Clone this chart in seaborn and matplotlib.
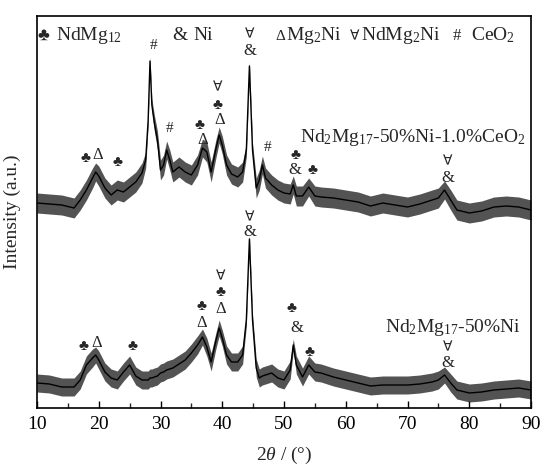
import matplotlib
matplotlib.use("Agg")
import matplotlib.pyplot as plt
import seaborn as sns
import pandas as pd
import numpy as np

# ---------------- data (arbitrary intensity units) ----------------
two_theta = [10, 12, 14, 16, 17, 18, 19, 19.5, 20, 21, 22, 23, 24, 25, 26, 27, 27.6, 28, 28.3,
             28.6, 29, 29.5, 30, 30.5, 31, 31.5, 32, 33, 34, 35, 36, 36.8, 37.5, 38.2, 39, 39.5,
             40, 40.7, 41.5, 42.5, 43.3, 43.9, 44.4, 44.9, 45.5, 46, 46.5, 47, 48, 49, 50, 51,
             51.5, 52, 53, 54, 55, 56, 58, 60, 62, 64, 66, 68, 70, 72, 74, 75, 76, 77, 78, 80,
             82, 84, 86, 88, 90]

# Nd2Mg17-50%Ni-1.0%CeO2 (upper trace): mean level and half-width of the noise band
ceo2_mid = [205, 204, 203, 200, 208, 218, 230, 236, 232, 220, 213, 218, 216, 221, 226, 235, 248, 288, 347,
            303, 285, 268, 238, 243, 258, 248, 236, 241, 236, 233, 243, 260, 256, 236, 260, 273,
            263, 243, 234, 231, 236, 258, 342, 258, 220, 228, 243, 230, 223, 218, 215, 214,
            223, 212, 212, 221, 212, 211, 210, 208, 206, 202, 205, 203, 201, 204, 208, 210, 218, 208, 198, 195,
            197, 201, 202, 201, 198]
ceo2_noise = [10, 10, 10, 10, 10, 10, 10, 9, 10, 10, 10, 10, 10, 10, 10, 10, 8, 6, 4,
              6, 8, 9, 10, 10, 9, 10, 10, 10, 10, 10, 10, 9, 10, 10, 9, 8,
              9, 10, 10, 10, 10, 7, 4, 7, 10, 10, 9, 10, 10, 10, 10, 10,
              9, 10, 10, 9, 10, 10, 10, 10, 10, 10, 10, 10, 10, 10, 10, 10, 9, 10, 10, 10,
              10, 10, 10, 10, 10]

# Nd2Mg17-50%Ni (lower trace)
ni_mid = [25, 24, 21, 21, 28, 43, 50, 53, 48, 36, 30, 28, 36, 43, 32, 28, 28, 28, 30,
          30, 31, 32, 35, 36, 38, 39, 40, 44, 48, 55, 63, 71, 61, 46, 68, 80,
          70, 53, 46, 46, 53, 88, 169, 88, 40, 30, 32, 33, 35, 30, 28, 38,
          63, 43, 31, 43, 36, 35, 31, 28, 25, 22, 23, 23, 23, 24, 26, 28, 33, 25, 18, 15,
          16, 18, 19, 20, 18]
ni_noise = [9, 9, 9, 9, 9, 9, 9, 8, 9, 9, 9, 9, 9, 9, 9, 9, 9, 9, 9,
            9, 9, 9, 9, 9, 9, 9, 9, 9, 9, 9, 9, 8, 9, 9, 8, 8,
            8, 9, 9, 9, 9, 6, 4, 6, 9, 9, 9, 9, 9, 9, 9, 9,
            6, 9, 9, 9, 9, 9, 9, 9, 9, 9, 9, 9, 9, 9, 9, 9, 8, 9, 9, 9,
            9, 9, 9, 9, 9]

sample_names = ["Nd$_2$Mg$_{17}$-50%Ni-1.0%CeO$_2$", "Nd$_2$Mg$_{17}$-50%Ni"]
# phase legend: (symbol, phase name)
phase_symbols = ["\u2663", "&", "\u0394", "\u2200", "#"]
phase_names = ["NdMg$_{12}$", "Ni", "Mg$_2$Ni", "NdMg$_2$Ni", "CeO$_2$"]

# peak marks: symbol, 2theta, intensity
ceo2_marks = [("\u2663", 17.9, 250), ("\u0394", 19.9, 253), ("\u2663", 23.0, 246),
              ("#", 28.8, 363), ("#", 31.4, 280), ("\u2663", 36.3, 283), ("\u0394", 36.9, 268),
              ("\u2200", 39.3, 320), ("\u2663", 39.3, 303), ("\u0394", 39.6, 288),
              ("\u2200", 44.5, 373), ("&", 44.5, 357), ("#", 47.3, 261),
              ("\u2663", 51.8, 253), ("&", 51.8, 238), ("\u2663", 54.6, 238),
              ("\u2200", 76.5, 246), ("&", 76.5, 230)]
ni_marks = [("\u2663", 17.6, 61), ("\u0394", 19.7, 65), ("\u2663", 25.4, 61),
            ("\u2663", 36.7, 102), ("\u0394", 36.7, 85),
            ("\u2200", 39.7, 131), ("\u2663", 39.7, 115), ("\u0394", 39.7, 99),
            ("\u2200", 44.5, 190), ("&", 44.5, 176),
            ("\u2663", 51.3, 100), ("&", 52.0, 80), ("\u2663", 54.2, 55),
            ("\u2200", 76.5, 60), ("&", 76.5, 45)]

xticks = [10, 20, 30, 40, 50, 60, 70, 80, 90]

# ---------------- style ----------------
sns.set_theme(style="ticks")
plt.rcParams["font.family"] = ["Liberation Serif", "DejaVu Sans"]
plt.rcParams["mathtext.fontset"] = "custom"
plt.rcParams["mathtext.rm"] = "Liberation Serif"
plt.rcParams["mathtext.it"] = "Liberation Serif:italic"
plt.rcParams["mathtext.default"] = "regular"

df = pd.DataFrame({"two_theta": two_theta, "ceo2": ceo2_mid, "ni": ni_mid,
                   "ceo2_n": ceo2_noise, "ni_n": ni_noise})

fig = plt.figure(figsize=(5.4, 4.66), dpi=100)
ax = fig.add_axes([37 / 540, 1 - 408 / 466, (531 - 37) / 540, (408 - 16) / 466])

for col, ncol in (("ceo2", "ceo2_n"), ("ni", "ni_n")):
    ax.fill_between(df["two_theta"], df[col] - df[ncol], df[col] + df[ncol],
                    color="#1a1a1a", alpha=0.75, linewidth=0)
    sns.lineplot(data=df, x="two_theta", y=col, ax=ax, color="black", linewidth=1.0)

ax.set_xlim(10, 90)
ax.set_ylim(0, 392)
ax.set_xticks(xticks)
ax.set_xticks([15, 25, 35, 45, 55, 65, 75, 85], minor=True)
ax.set_yticks([])
ax.tick_params(axis="x", which="major", direction="in", length=5, width=1.0,
               labelsize=14, pad=6, colors="black")
ax.tick_params(axis="x", which="minor", direction="in", length=3.5, width=1.0)
for s in ax.spines.values():
    s.set_linewidth(1.2)
    s.set_color("black")

ax.set_xlabel("2$\\mathit{\\theta}$ / (\u00b0)", fontsize=14)
ax.xaxis.set_label_coords(0.5, -0.093)
ax.set_ylabel("Intensity (a.u.)", fontsize=14)
ax.yaxis.set_label_coords(-0.032, 0.5)

# phase legend line at the top
sym_x = [10.1, 31.9, 48.6, 60.7, 77.3]
sym_size = [13, 14, 11, 10, 12]
name_x = [13.0, 35.3, 50.4, 62.4, 80.3]
for sym, nm, sx, ss, nx in zip(phase_symbols, phase_names, sym_x, sym_size, name_x):
    ax.text(sx, 368, sym, fontsize=ss, ha="left", va="baseline")
    ax.text(nx, 368, nm, fontsize=14, ha="left", va="baseline")

# sample names
ax.text(89.1, 266, sample_names[0], fontsize=14, ha="right", va="baseline")
ax.text(88.3, 76, sample_names[1], fontsize=14, ha="right", va="baseline")

size_of = {"\u2663": 11, "\u0394": 12, "#": 11, "&": 12, "\u2200": 10}
for marks in (ceo2_marks, ni_marks):
    for sym, x, y in marks:
        ax.text(x, y, sym, fontsize=size_of[sym], ha="center", va="center")

fig.savefig("out.png", dpi=100)
